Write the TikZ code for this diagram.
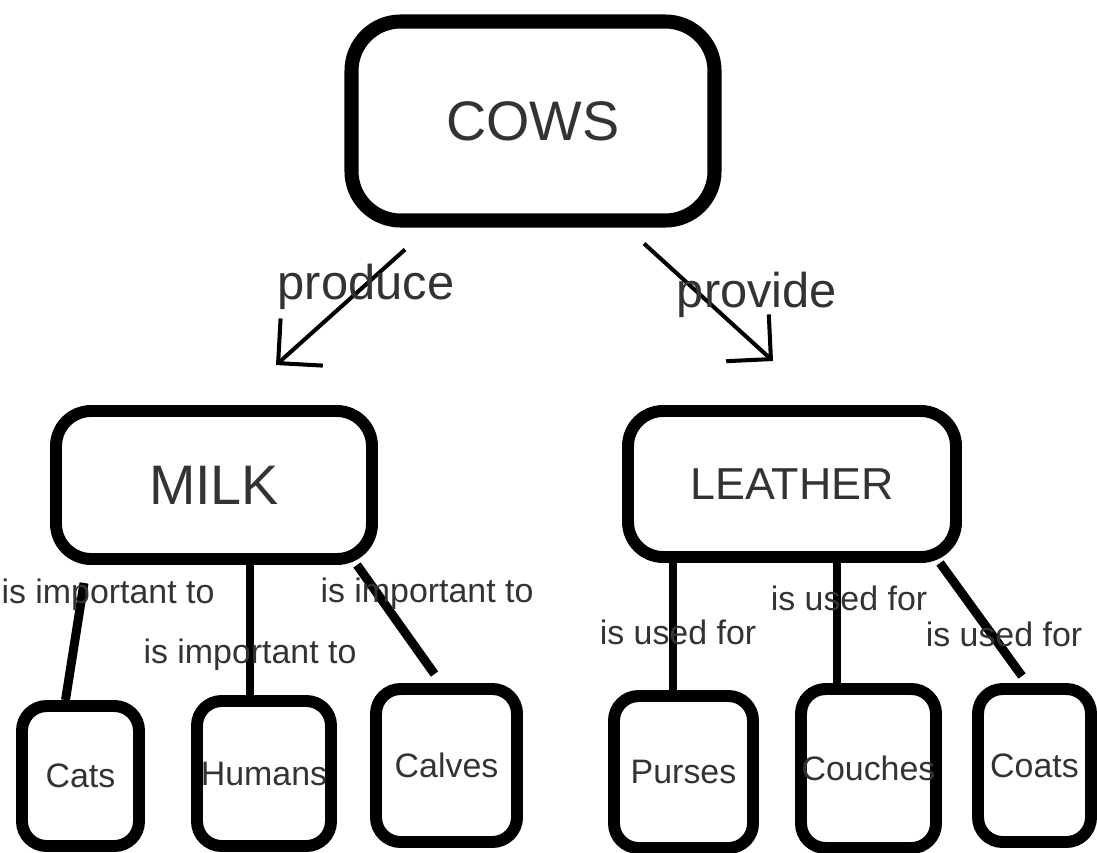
\documentclass[tikz,border=0pt]{standalone}
\usepackage{fontspec}
\setmainfont{Liberation Sans}
\usetikzlibrary{arrows.meta,calc}
\tikzset{
	concept/.style={draw, inner sep=0pt, text=black!80},
	bigbox/.style={concept, line width=8pt, rounded corners=28pt,
			font=\fontsize{31.7}{36}\selectfont},
	midbox/.style={concept, line width=6.8pt, rounded corners=20pt},
	leafbox/.style={concept, line width=6.8pt, rounded corners=14pt,
			font=\fontsize{19.3}{22}\selectfont},
	boxsize/.style 2 args={minimum width=#1*0.02cm, minimum height=#2*0.02cm},
	link/.style={line width=5.1pt},
	relation/.style={line width=2.3pt, -{Straight Barb[length=18pt, width=36pt]}},
	linklabel/.style={inner sep=0pt, text=black!80, font=\fontsize{19.3}{22}\selectfont},
	verblabel/.style={inner sep=0pt, text=black!80, font=\fontsize{27.8}{32}\selectfont}
}

\begin{document}
\begin{tikzpicture}[x=0.02cm, y=-0.02cm]
	\useasboundingbox (0,0) rectangle (1097,852);

	% Top concept
	\node[bigbox, boxsize={363}{199}] (cows) at (533,121) {COWS};

	% Middle concepts
	\node[midbox, boxsize={316}{148}, font=\fontsize{31.7}{36}\selectfont] (milk) at (214,485) {MILK};
	\node[midbox, boxsize={328}{146}, font=\fontsize{25.5}{30}\selectfont] (leather) at (792,484) {LEATHER};

	% Leaves
	\node[leafbox, boxsize={117}{140}] (cats) at (80.5,776) {Cats};
	\node[leafbox, boxsize={134}{145}] (humans) at (264,773.5) {Humans};
	\node[leafbox, boxsize={141}{153}] (calves) at (446.5,765.5) {Calves};
	\node[leafbox, boxsize={139}{152}] (purses) at (683.5,772) {Purses};
	\node[leafbox, boxsize={135}{159}] (couches) at (868.5,768.5) {Couches};
	\node[leafbox, boxsize={113}{153}] (coats) at (1034.5,765.5) {Coats};

	% Arrows from the top
	\draw[relation] ($(cows.south)+(-128,22)$) -- ($(milk.north)+(62,-40)$);
	\draw[relation] ($(cows.south)+(111,16)$) -- ($(leather.north)+(-19,-44)$);

	% Links to the leaves
	\draw[link] ($(milk.south)+(-130,18)$) -- ($(cats.north)+(-15,0)$);
	\draw[link] ($(milk.south)+(36,0)$) -- ($(humans.north)+(-14,0)$);
	\draw[link] ($(milk.south)+(143,0)$) -- ($(calves.north)+(-12,-9)$);
	\draw[link] ($(leather.south)+(-119,0)$) -- ($(purses.north)+(-10.5,0)$);
	\draw[link] ($(leather.south)+(45,0)$) -- ($(couches.north)+(-31.5,0)$);
	\draw[link] ($(leather.south)+(148,0)$) -- ($(coats.north)+(-12.5,-7)$);

	% Labels
	\node[verblabel] (produce) at (366,287) {produce};
	\node[verblabel] (provide) at (757,295) {provide};
	\node[linklabel] (imp1) at (108,595) {is important to};
	\node[linklabel] (imp2) at (250,655) {is important to};
	\node[linklabel] (imp3) at (427,594) {is important to};
	\node[linklabel] (used1) at (678,632) {is used for};
	\node[linklabel] (used2) at (849,598) {is used for};
	\node[linklabel] (used3) at (1004,634) {is used for};
\end{tikzpicture}
\end{document}
